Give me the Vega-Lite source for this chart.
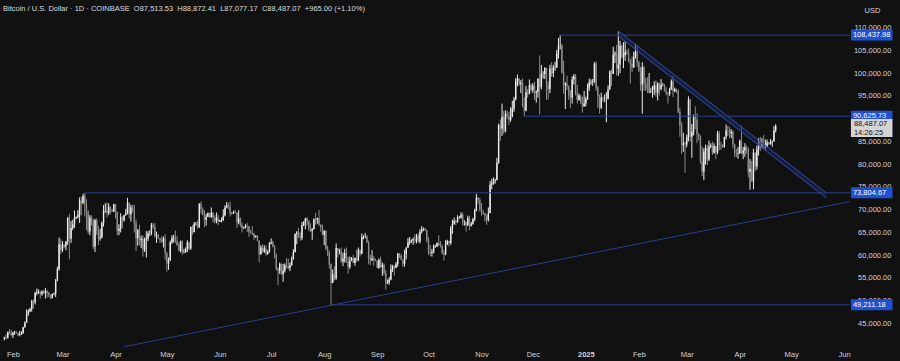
{
"$schema": "https://vega.github.io/schema/vega-lite/v6.json",
"width": 855, "height": 347,
"autosize": {"type": "none"},
"padding": {"left": 0, "top": 0, "right": 45, "bottom": 14},
"background": "#111111",
"config": {"view": {"stroke": null}, "font": "Liberation Sans", "axis": {"labelOverlap": false, "labelBound": false}},
"title": {"text": "Bitcoin / U.S. Dollar · 1D · COINBASE\u00a0\u00a0O87,513.53\u00a0\u00a0H88,872.41\u00a0\u00a0L87,077.17\u00a0\u00a0C88,487.07\u00a0\u00a0+965.00 (+1.10%)", "anchor": "start", "frame": "group", "orient": "top", "offset": -12, "dx": 3, "fontSize": 7.5, "fontWeight": "normal", "color": "#dcdcdc", "font": "Liberation Sans"},
"layer": [
{
"data": {"values": "d,o,h,l,c\n2024-01-27,41.8,42.2,41.4,42.1\n2024-01-28,42.1,42.8,41.6,42.0\n2024-01-29,42.0,43.3,41.8,43.3\n2024-01-30,43.3,43.9,42.7,42.9\n2024-01-31,42.9,43.7,42.3,42.6\n2024-02-01,42.6,43.3,41.9,43.1\n2024-02-02,43.1,43.5,42.6,43.2\n2024-02-03,43.2,43.4,42.9,43.0\n2024-02-04,43.0,43.1,42.3,42.6\n2024-02-05,42.6,43.5,42.3,42.7\n2024-02-06,42.7,43.4,42.6,43.1\n2024-02-07,43.1,44.4,42.8,44.3\n2024-02-08,44.3,45.6,44.2,45.3\n2024-02-09,45.3,48.2,45.3,47.1\n2024-02-10,47.1,48.2,46.8,47.8\n2024-02-11,47.8,48.6,47.6,48.3\n2024-02-12,48.3,50.3,47.7,50.0\n2024-02-13,50.0,50.4,48.4,49.7\n2024-02-14,49.7,52.1,49.3,51.8\n2024-02-15,51.8,52.8,51.3,52.0\n2024-02-16,52.0,52.6,51.6,52.1\n2024-02-17,52.1,52.2,50.6,51.6\n2024-02-18,51.6,52.4,51.2,52.1\n2024-02-19,52.1,52.5,51.6,51.8\n2024-02-20,51.8,52.9,50.6,52.3\n2024-02-21,52.3,52.4,50.8,51.8\n2024-02-22,51.8,52.1,50.9,51.3\n2024-02-23,51.3,51.5,50.5,50.7\n2024-02-24,50.7,51.7,50.6,51.6\n2024-02-25,51.6,51.9,51.3,51.7\n2024-02-26,51.7,54.9,50.9,54.5\n2024-02-27,54.5,57.6,54.4,57.1\n2024-02-28,57.1,64.0,56.7,62.5\n2024-02-29,62.5,63.7,60.4,61.2\n2024-03-01,61.2,63.2,60.8,62.4\n2024-03-02,62.4,62.5,61.7,62.0\n2024-03-03,62.0,63.2,61.2,63.1\n2024-03-04,63.1,68.5,62.4,68.3\n2024-03-05,68.3,69.2,59.2,63.8\n2024-03-06,63.8,67.6,62.8,66.1\n2024-03-07,66.1,67.9,65.6,66.9\n2024-03-08,66.9,69.9,66.1,68.3\n2024-03-09,68.3,68.6,68.0,68.5\n2024-03-10,68.5,70.0,68.2,69.0\n2024-03-11,69.0,72.8,67.2,72.1\n2024-03-12,72.1,72.9,68.8,71.5\n2024-03-13,71.5,73.6,71.3,73.1\n2024-03-14,73.1,73.8,68.6,71.4\n2024-03-15,71.4,72.4,65.6,69.5\n2024-03-16,69.5,70.0,64.8,65.3\n2024-03-17,65.3,68.9,64.5,68.4\n2024-03-18,68.4,68.9,66.6,67.6\n2024-03-19,67.6,68.1,61.5,62.0\n2024-03-20,62.0,68.1,60.8,67.8\n2024-03-21,67.8,68.2,64.6,65.5\n2024-03-22,65.5,66.6,62.3,63.8\n2024-03-23,63.8,65.9,63.3,64.0\n2024-03-24,64.0,67.5,63.8,67.2\n2024-03-25,67.2,71.1,66.4,69.9\n2024-03-26,69.9,71.5,69.4,69.9\n2024-03-27,69.9,71.7,68.4,69.4\n2024-03-28,69.4,71.5,68.9,70.7\n2024-03-29,70.7,70.9,69.1,69.9\n2024-03-30,69.9,70.3,69.6,69.7\n2024-03-31,69.7,71.4,69.6,71.3\n2024-04-01,71.3,71.3,68.2,69.6\n2024-04-02,69.6,69.7,64.5,65.5\n2024-04-03,65.5,66.9,64.5,65.9\n2024-04-04,65.9,69.3,65.1,68.5\n2024-04-05,68.5,68.7,66.0,67.8\n2024-04-06,67.8,69.0,67.5,68.9\n2024-04-07,68.9,70.3,68.8,69.4\n2024-04-08,69.4,72.7,69.1,71.6\n2024-04-09,71.6,71.7,68.2,69.1\n2024-04-10,69.1,71.2,67.5,70.6\n2024-04-11,70.6,71.2,69.5,70.0\n2024-04-12,70.0,71.2,65.1,67.1\n2024-04-13,67.1,67.9,61.0,63.9\n2024-04-14,63.9,65.8,62.2,65.7\n2024-04-15,65.7,66.8,62.3,63.4\n2024-04-16,63.4,64.4,61.7,63.8\n2024-04-17,63.8,64.5,59.8,61.3\n2024-04-18,61.3,64.0,60.8,63.5\n2024-04-19,63.5,65.4,59.6,63.8\n2024-04-20,63.8,65.4,63.2,64.9\n2024-04-21,64.9,65.6,64.3,64.9\n2024-04-22,64.9,67.2,64.5,66.8\n2024-04-23,66.8,67.2,65.9,66.4\n2024-04-24,66.4,67.1,63.9,64.3\n2024-04-25,64.3,65.3,62.8,64.5\n2024-04-26,64.5,64.8,63.8,63.8\n2024-04-27,63.8,63.9,62.8,63.4\n2024-04-28,63.4,64.3,62.8,63.1\n2024-04-29,63.1,64.2,61.8,63.8\n2024-04-30,63.8,64.7,59.1,60.6\n2024-05-01,60.6,60.8,56.5,58.3\n2024-05-02,58.3,59.6,56.9,59.1\n2024-05-03,59.1,63.3,58.8,62.9\n2024-05-04,62.9,64.5,62.6,63.9\n2024-05-05,63.9,64.6,62.9,64.0\n2024-05-06,64.0,65.5,62.8,63.2\n2024-05-07,63.2,64.4,62.2,62.3\n2024-05-08,62.3,62.9,60.9,61.2\n2024-05-09,61.2,63.3,60.7,63.1\n2024-05-10,63.1,63.4,60.2,60.8\n2024-05-11,60.8,61.5,60.5,60.8\n2024-05-12,60.8,61.8,60.6,61.5\n2024-05-13,61.5,63.4,60.8,62.9\n2024-05-14,62.9,63.1,61.2,61.6\n2024-05-15,61.6,66.4,61.3,66.3\n2024-05-16,66.3,66.7,64.6,65.2\n2024-05-17,65.2,67.4,65.1,67.0\n2024-05-18,67.0,67.4,66.6,67.0\n2024-05-19,67.0,67.7,65.9,66.3\n2024-05-20,66.3,71.5,66.1,71.4\n2024-05-21,71.4,71.9,69.2,70.2\n2024-05-22,70.2,70.6,68.8,69.1\n2024-05-23,69.1,70.0,66.3,67.9\n2024-05-24,67.9,69.2,66.6,68.5\n2024-05-25,68.5,69.5,68.5,69.3\n2024-05-26,69.3,69.5,68.3,68.5\n2024-05-27,68.5,70.6,68.3,69.4\n2024-05-28,69.4,69.6,67.3,68.4\n2024-05-29,68.4,68.9,67.1,67.6\n2024-05-30,67.6,69.5,67.1,68.4\n2024-05-31,68.4,69.0,66.7,67.5\n2024-06-01,67.5,67.9,67.4,67.8\n2024-06-02,67.8,68.4,67.3,67.8\n2024-06-03,67.8,70.2,67.6,68.8\n2024-06-04,68.8,71.1,68.6,70.6\n2024-06-05,70.6,71.8,70.4,71.1\n2024-06-06,71.1,71.6,70.2,70.8\n2024-06-07,70.8,71.9,68.6,69.3\n2024-06-08,69.3,69.5,69.1,69.3\n2024-06-09,69.3,69.9,69.2,69.6\n2024-06-10,69.6,70.1,69.3,69.5\n2024-06-11,69.5,69.5,66.1,67.3\n2024-06-12,67.3,70.0,66.9,68.2\n2024-06-13,68.2,68.4,66.3,66.7\n2024-06-14,66.7,67.3,65.1,66.0\n2024-06-15,66.0,66.4,65.9,66.2\n2024-06-16,66.2,66.9,66.0,66.6\n2024-06-17,66.6,67.2,65.2,66.5\n2024-06-18,66.5,66.5,64.1,65.2\n2024-06-19,65.2,65.7,64.7,65.0\n2024-06-20,65.0,66.5,64.5,64.9\n2024-06-21,64.9,65.0,63.4,64.1\n2024-06-22,64.1,64.5,63.9,64.3\n2024-06-23,64.3,64.5,63.2,63.3\n2024-06-24,63.3,63.4,58.5,60.3\n2024-06-25,60.3,62.3,60.2,61.8\n2024-06-26,61.8,62.5,60.7,60.9\n2024-06-27,60.9,62.3,60.6,61.6\n2024-06-28,61.6,62.2,60.0,60.3\n2024-06-29,60.3,61.2,60.3,60.9\n2024-06-30,60.9,63.0,60.7,62.7\n2024-07-01,62.7,63.8,62.5,62.9\n2024-07-02,62.9,63.3,61.8,62.1\n2024-07-03,62.1,62.3,59.4,60.2\n2024-07-04,60.2,60.5,56.8,57.0\n2024-07-05,57.0,57.5,53.5,56.7\n2024-07-06,56.7,58.5,56.0,58.2\n2024-07-07,58.2,58.3,55.8,55.9\n2024-07-08,55.9,58.2,54.3,56.7\n2024-07-09,56.7,58.3,56.3,57.9\n2024-07-10,57.9,59.5,57.2,57.7\n2024-07-11,57.7,59.4,57.0,57.3\n2024-07-12,57.3,58.5,56.6,57.9\n2024-07-13,57.9,59.8,57.8,59.2\n2024-07-14,59.2,61.4,59.2,60.8\n2024-07-15,60.8,64.9,60.7,64.7\n2024-07-16,64.7,65.4,62.5,65.1\n2024-07-17,65.1,66.1,63.9,64.1\n2024-07-18,64.1,65.1,63.3,63.9\n2024-07-19,63.9,67.4,63.4,66.7\n2024-07-20,66.7,67.6,66.5,67.2\n2024-07-21,67.2,68.3,65.8,68.2\n2024-07-22,68.2,68.5,66.6,67.6\n2024-07-23,67.6,67.8,65.4,65.9\n2024-07-24,65.9,67.1,65.2,65.4\n2024-07-25,65.4,66.1,63.5,65.8\n2024-07-26,65.8,68.2,65.8,68.0\n2024-07-27,68.0,69.4,66.8,67.9\n2024-07-28,67.9,68.3,67.0,68.3\n2024-07-29,68.3,70.0,66.5,66.8\n2024-07-30,66.8,66.9,65.3,66.2\n2024-07-31,66.2,66.8,64.5,64.6\n2024-08-01,64.6,65.6,62.3,65.4\n2024-08-02,65.4,65.6,61.2,61.5\n2024-08-03,61.5,62.2,59.9,60.7\n2024-08-04,60.7,61.1,57.2,58.1\n2024-08-05,58.1,58.3,49.2,54.0\n2024-08-06,54.0,57.0,54.0,56.0\n2024-08-07,56.0,57.7,54.6,55.0\n2024-08-08,55.0,62.7,54.7,61.7\n2024-08-09,61.7,61.7,59.6,60.9\n2024-08-10,60.9,61.5,60.3,60.9\n2024-08-11,60.9,61.8,58.4,58.7\n2024-08-12,58.7,60.7,57.7,59.4\n2024-08-13,59.4,61.5,58.5,60.6\n2024-08-14,60.6,61.8,58.4,58.7\n2024-08-15,58.7,59.8,56.1,57.5\n2024-08-16,57.5,59.8,57.1,58.9\n2024-08-17,58.9,59.7,58.8,59.5\n2024-08-18,59.5,60.2,58.4,58.4\n2024-08-19,58.4,59.6,57.8,59.5\n2024-08-20,59.5,61.4,58.6,59.0\n2024-08-21,59.0,61.8,58.8,61.2\n2024-08-22,61.2,61.4,59.8,60.4\n2024-08-23,60.4,64.9,60.3,64.1\n2024-08-24,64.1,64.5,63.6,64.2\n2024-08-25,64.2,65.0,63.8,64.2\n2024-08-26,64.2,64.5,62.8,62.9\n2024-08-27,62.9,63.3,58.1,59.4\n2024-08-28,59.4,60.2,57.9,59.0\n2024-08-29,59.0,61.2,58.8,59.4\n2024-08-30,59.4,59.9,57.8,59.1\n2024-08-31,59.1,59.4,58.8,58.9\n2024-09-01,58.9,59.0,57.3,57.3\n2024-09-02,57.3,59.4,57.1,59.1\n2024-09-03,59.1,59.8,57.4,57.5\n2024-09-04,57.5,58.5,55.6,58.0\n2024-09-05,58.0,58.3,55.7,56.2\n2024-09-06,56.2,56.9,52.6,53.9\n2024-09-07,53.9,54.8,53.8,54.1\n2024-09-08,54.1,55.3,53.6,54.8\n2024-09-09,54.8,58.1,54.6,57.0\n2024-09-10,57.0,58.0,56.4,57.6\n2024-09-11,57.6,57.9,55.6,57.3\n2024-09-12,57.3,58.6,57.3,58.1\n2024-09-13,58.1,60.6,57.6,60.5\n2024-09-14,60.5,60.6,59.5,60.0\n2024-09-15,60.0,60.4,59.1,59.1\n2024-09-16,59.1,59.2,57.5,58.2\n2024-09-17,58.2,61.3,57.6,60.3\n2024-09-18,60.3,61.8,59.2,61.8\n2024-09-19,61.8,63.9,61.7,62.9\n2024-09-20,62.9,64.1,62.4,63.2\n2024-09-21,63.2,63.6,62.8,63.4\n2024-09-22,63.4,64.0,62.4,63.6\n2024-09-23,63.6,64.7,62.7,63.3\n2024-09-24,63.3,64.8,62.7,64.3\n2024-09-25,64.3,64.8,62.9,63.1\n2024-09-26,63.1,65.8,62.7,65.2\n2024-09-27,65.2,66.5,64.9,65.8\n2024-09-28,65.8,66.2,65.4,65.9\n2024-09-29,65.9,66.1,65.4,65.6\n2024-09-30,65.6,65.7,62.9,63.3\n2024-10-01,63.3,64.1,60.2,60.8\n2024-10-02,60.8,62.4,59.9,60.6\n2024-10-03,60.6,61.5,59.8,60.8\n2024-10-04,60.8,62.5,60.5,62.1\n2024-10-05,62.1,62.4,61.7,62.1\n2024-10-06,62.1,62.9,61.9,62.8\n2024-10-07,62.8,64.5,62.2,62.2\n2024-10-08,62.2,63.2,61.8,62.1\n2024-10-09,62.1,62.5,60.3,60.6\n2024-10-10,60.6,61.3,58.9,60.3\n2024-10-11,60.3,63.4,60.1,62.4\n2024-10-12,62.4,63.5,62.4,63.2\n2024-10-13,63.2,63.3,62.0,62.8\n2024-10-14,62.8,66.5,62.4,66.0\n2024-10-15,66.0,67.9,64.8,67.0\n2024-10-16,67.0,68.4,66.8,67.6\n2024-10-17,67.6,67.9,66.7,67.4\n2024-10-18,67.4,68.9,67.2,68.4\n2024-10-19,68.4,68.7,68.1,68.4\n2024-10-20,68.4,69.5,68.1,69.0\n2024-10-21,69.0,69.5,66.6,67.4\n2024-10-22,67.4,67.8,66.6,67.4\n2024-10-23,67.4,67.5,65.3,66.7\n2024-10-24,66.7,68.8,66.5,68.2\n2024-10-25,68.2,68.8,65.6,66.6\n2024-10-26,66.6,67.4,66.4,67.0\n2024-10-27,67.0,68.3,66.8,68.0\n2024-10-28,68.0,70.3,67.6,69.9\n2024-10-29,69.9,73.6,69.7,72.7\n2024-10-30,72.7,72.9,71.4,72.3\n2024-10-31,72.3,72.7,69.7,70.2\n2024-11-01,70.2,71.6,68.8,69.5\n2024-11-02,69.5,70.0,69.0,69.3\n2024-11-03,69.3,69.4,67.5,68.8\n2024-11-04,68.8,69.0,66.8,67.8\n2024-11-05,67.8,70.6,67.5,69.4\n2024-11-06,69.4,76.4,69.3,75.6\n2024-11-07,75.6,76.9,74.6,75.9\n2024-11-08,75.9,77.2,75.6,76.5\n2024-11-09,76.5,76.9,75.8,76.7\n2024-11-10,76.7,81.5,76.5,80.4\n2024-11-11,80.4,89.0,80.2,88.7\n2024-11-12,88.7,89.9,85.2,87.9\n2024-11-13,87.9,93.4,86.3,90.5\n2024-11-14,90.5,91.8,86.7,87.3\n2024-11-15,87.3,91.9,87.1,91.1\n2024-11-16,91.1,91.9,90.1,90.6\n2024-11-17,90.6,91.6,88.7,89.8\n2024-11-18,89.8,92.6,89.4,90.5\n2024-11-19,90.5,94.0,90.4,92.3\n2024-11-20,92.3,94.9,91.6,94.3\n2024-11-21,94.3,99.0,94.1,98.3\n2024-11-22,98.3,99.8,97.2,98.9\n2024-11-23,98.9,99.0,97.3,97.7\n2024-11-24,97.7,98.6,95.7,98.0\n2024-11-25,98.0,98.9,92.6,93.0\n2024-11-26,93.0,94.8,90.6,91.9\n2024-11-27,91.9,97.3,91.7,95.9\n2024-11-28,95.9,96.6,94.7,95.6\n2024-11-29,95.6,98.7,95.4,97.5\n2024-11-30,97.5,97.8,96.0,96.4\n2024-12-01,96.4,97.9,95.7,97.3\n2024-12-02,97.3,98.2,94.2,95.8\n2024-12-03,95.8,96.3,93.6,96.0\n2024-12-04,96.0,99.0,94.7,98.8\n2024-12-05,98.8,104.0,91.0,97.0\n2024-12-06,97.0,101.9,96.5,99.9\n2024-12-07,99.9,100.5,98.9,99.9\n2024-12-08,99.9,101.4,98.8,101.2\n2024-12-09,101.2,101.3,94.2,97.4\n2024-12-10,97.4,98.3,94.3,96.6\n2024-12-11,96.6,101.9,95.7,101.1\n2024-12-12,101.1,102.5,99.3,100.0\n2024-12-13,100.0,101.9,99.2,101.4\n2024-12-14,101.4,102.6,100.6,101.4\n2024-12-15,101.4,105.2,101.2,104.4\n2024-12-16,104.4,107.8,103.3,106.1\n2024-12-17,106.1,108.4,105.3,106.1\n2024-12-18,106.1,106.5,100.0,100.2\n2024-12-19,100.2,102.8,95.6,97.5\n2024-12-20,97.5,98.1,92.2,97.8\n2024-12-21,97.8,99.5,96.4,97.2\n2024-12-22,97.2,97.4,94.2,95.1\n2024-12-23,95.1,96.4,92.5,94.7\n2024-12-24,94.7,99.4,93.4,98.7\n2024-12-25,98.7,99.9,97.6,99.4\n2024-12-26,99.4,99.9,95.2,95.8\n2024-12-27,95.8,97.5,93.4,94.2\n2024-12-28,94.2,95.6,94.0,95.2\n2024-12-29,95.2,95.3,93.3,93.7\n2024-12-30,93.7,94.9,91.4,92.8\n2024-12-31,92.8,96.2,92.7,93.4\n2025-01-01,93.4,94.9,92.8,94.4\n2025-01-02,94.4,97.8,94.2,96.9\n2025-01-03,96.9,98.9,96.2,98.1\n2025-01-04,98.1,98.7,97.5,98.2\n2025-01-05,98.2,98.8,97.3,98.3\n2025-01-06,98.3,102.5,97.9,102.2\n2025-01-07,102.2,102.7,96.2,96.9\n2025-01-08,96.9,97.3,92.5,95.0\n2025-01-09,95.0,95.4,91.2,92.5\n2025-01-10,92.5,95.8,92.2,94.7\n2025-01-11,94.7,94.9,93.8,94.5\n2025-01-12,94.5,95.4,93.7,94.5\n2025-01-13,94.5,95.9,89.3,94.5\n2025-01-14,94.5,97.4,94.3,96.5\n2025-01-15,96.5,100.7,96.5,100.5\n2025-01-16,100.5,100.9,97.3,99.9\n2025-01-17,99.9,105.9,99.9,104.1\n2025-01-18,104.1,104.9,102.3,104.4\n2025-01-19,104.4,106.3,99.6,101.1\n2025-01-20,101.1,109.3,99.5,102.0\n2025-01-21,102.0,107.2,100.1,106.1\n2025-01-22,106.1,106.4,103.3,103.7\n2025-01-23,103.7,106.9,101.2,104.0\n2025-01-24,104.0,107.1,102.8,104.8\n2025-01-25,104.8,105.3,104.1,104.7\n2025-01-26,104.7,105.5,102.5,102.6\n2025-01-27,102.6,103.2,97.8,102.1\n2025-01-28,102.1,103.8,100.3,101.3\n2025-01-29,101.3,104.8,101.3,103.7\n2025-01-30,103.7,106.5,103.3,104.7\n2025-01-31,104.7,106.1,101.5,102.4\n2025-02-01,102.4,102.8,100.3,100.6\n2025-02-02,100.6,101.5,96.2,97.6\n2025-02-03,97.6,102.5,91.2,101.4\n2025-02-04,101.4,101.7,96.2,97.8\n2025-02-05,97.8,99.0,96.2,96.6\n2025-02-06,96.6,99.2,95.7,96.5\n2025-02-07,96.5,100.1,95.7,96.5\n2025-02-08,96.5,96.9,95.7,96.5\n2025-02-09,96.5,97.3,94.7,96.5\n2025-02-10,96.5,98.3,95.3,97.4\n2025-02-11,97.4,98.5,94.9,95.8\n2025-02-12,95.8,98.1,94.1,97.8\n2025-02-13,97.8,98.0,95.2,96.6\n2025-02-14,96.6,98.8,96.3,97.5\n2025-02-15,97.5,97.9,97.2,97.5\n2025-02-16,97.5,97.7,96.1,96.1\n2025-02-17,96.1,97.0,95.2,95.7\n2025-02-18,95.7,96.0,93.4,95.5\n2025-02-19,95.5,96.9,95.1,96.6\n2025-02-20,96.6,98.7,96.4,98.3\n2025-02-21,98.3,99.5,94.8,96.1\n2025-02-22,96.1,96.9,95.9,96.6\n2025-02-23,96.6,96.7,95.7,96.3\n2025-02-24,96.3,96.5,91.3,91.5\n2025-02-25,91.5,92.5,86.1,88.6\n2025-02-26,88.6,89.3,82.3,84.3\n2025-02-27,84.3,87.0,82.8,84.7\n2025-02-28,84.7,85.1,78.2,84.4\n2025-03-01,84.4,86.6,83.8,86.0\n2025-03-02,86.0,95.0,85.1,94.3\n2025-03-03,94.3,94.4,85.1,86.1\n2025-03-04,86.1,88.9,81.5,87.2\n2025-03-05,87.2,91.0,86.4,90.6\n2025-03-06,90.6,92.8,87.8,89.9\n2025-03-07,89.9,91.3,84.7,86.7\n2025-03-08,86.7,86.9,85.3,86.2\n2025-03-09,86.2,86.4,80.2,80.7\n2025-03-10,80.7,84.0,77.5,78.5\n2025-03-11,78.5,83.6,76.6,82.9\n2025-03-12,82.9,84.4,80.0,83.7\n2025-03-13,83.7,84.3,79.9,81.1\n2025-03-14,81.1,85.3,80.8,84.0\n2025-03-15,84.0,84.7,83.6,84.3\n2025-03-16,84.3,85.1,82.1,82.6\n2025-03-17,82.6,84.7,82.4,84.1\n2025-03-18,84.1,84.1,81.2,82.7\n2025-03-19,82.7,87.4,82.3,86.9\n2025-03-20,86.9,87.4,83.2,84.2\n2025-03-21,84.2,85.0,83.2,84.1\n2025-03-22,84.1,84.5,83.7,83.8\n2025-03-23,83.8,86.1,83.8,86.1\n2025-03-24,86.1,88.8,85.5,87.5\n2025-03-25,87.5,88.5,86.3,87.4\n2025-03-26,87.4,88.3,85.9,86.9\n2025-03-27,86.9,87.8,85.8,87.2\n2025-03-28,87.2,87.5,83.6,84.4\n2025-03-29,84.4,84.6,81.6,82.6\n2025-03-30,82.6,83.5,81.6,82.4\n2025-03-31,82.4,83.9,81.3,82.5\n2025-04-01,82.5,85.5,82.4,85.2\n2025-04-02,85.2,88.5,82.3,82.5\n2025-04-03,82.5,83.9,81.2,83.1\n2025-04-04,83.1,84.7,81.7,83.8\n2025-04-05,83.8,84.2,82.4,83.5\n2025-04-06,83.5,83.8,77.2,78.4\n2025-04-07,78.4,81.2,74.5,79.1\n2025-04-08,79.1,80.8,76.2,76.3\n2025-04-09,76.3,83.5,74.6,82.6\n2025-04-10,82.6,82.7,78.5,79.6\n2025-04-11,79.6,84.2,78.9,83.4\n2025-04-12,83.4,85.8,82.0,85.3\n2025-04-13,85.3,86.1,83.0,83.7\n2025-04-14,83.7,85.8,83.6,84.5\n2025-04-15,84.5,86.5,83.6,83.6\n2025-04-16,83.6,85.5,83.1,84.0\n2025-04-17,84.0,85.5,83.8,84.9\n2025-04-18,84.9,85.0,84.3,84.5\n2025-04-19,84.5,85.6,84.4,85.0\n2025-04-20,85.0,85.3,83.9,85.1\n2025-04-21,85.1,88.5,85.1,87.5\n2025-04-22,87.513,88.872,87.077,88.487", "format": {"type": "csv", "parse": {"d": "date", "o": "number", "h": "number", "l": "number", "c": "number"}}},
"encoding": {
 "x": {"field": "d", "type": "temporal",
  "scale": {"type": "utc", "domain": [1706346000000, 1749034800000]},
  "axis": {"orient": "bottom", "title": null, "grid": false, "domain": false, "ticks": false, "tickSize": 0, "labelPadding": 3, "labelFontSize": 7.5, "labelColor": "#d1d4dc", "labelFont": "Liberation Sans", "labelOverlap": false, "labelFlush": false, "tickCount": {"interval": "month", "step": 1}, "labelExpr": "utcmonth(datum.value) == 0 ? utcFormat(datum.value, '%Y') : utcFormat(datum.value, '%b')", "labelFontWeight": {"condition": {"test": "utcmonth(datum.value) == 0", "value": "bold"}, "value": "normal"}}},
 "y": {"type": "quantitative", "scale": {"domain": [39.95, 116.15], "nice": false, "zero": false},
  "axis": {"orient": "right", "values": [110], "labels": false, "grid": false, "domain": false, "ticks": false, "tickSize": 0, "title": "USD", "titleAngle": 0, "titleAlign": "left", "titleBaseline": "middle", "titleX": 9, "titleY": 10, "titleFontSize": 7.5, "titleFontWeight": "normal", "titleColor": "#d1d4dc", "titleFont": "Liberation Sans"}},
 "color": {"condition": {"test": "datum.c >= datum.o", "value": "#ececec"}, "value": "#8c8c8c"}
},
"layer": [
 {"mark": {"type": "rule", "strokeWidth": 1}, "encoding": {"y": {"field": "l"}, "y2": {"field": "h"}}},
 {"mark": {"type": "bar", "size": 1.4}, "encoding": {"y": {"field": "o"}, "y2": {"field": "c"}}}
]
},
{
"data": {"values": [{"tick": 45, "label": "45,000.00"}, {"tick": 50, "label": "50,000.00"}, {"tick": 55, "label": "55,000.00"}, {"tick": 60, "label": "60,000.00"}, {"tick": 65, "label": "65,000.00"}, {"tick": 70, "label": "70,000.00"}, {"tick": 75, "label": "75,000.00"}, {"tick": 80, "label": "80,000.00"}, {"tick": 85, "label": "85,000.00"}, {"tick": 90, "label": "90,000.00"}, {"tick": 95, "label": "95,000.00"}, {"tick": 100, "label": "100,000.00"}, {"tick": 105, "label": "105,000.00"}, {"tick": 110, "label": "110,000.00"}]},
"mark": {"type": "text", "color": "#d1d4dc", "fontSize": 7.5, "font": "Liberation Sans", "align": "right", "baseline": "middle", "dx": -1, "clip": false},
"encoding": {"x": {"datum": 1751180400000, "type": "temporal"}, "y": {"field": "tick", "type": "quantitative"}, "text": {"field": "label"}}
},
{
"data": {"values": [{"level": 108.43798, "start": "2024-12-17", "label": "108,437.98"}, {"level": 90.62573, "start": "2024-11-26", "label": "90,625.73"}, {"level": 73.80467, "start": "2024-03-14", "label": "73,804.67"}, {"level": 49.21118, "start": "2024-08-05", "label": "49,211.18"}]},
"layer": [
 {"mark": {"type": "rule", "color": "#27418f", "strokeWidth": 1}, "encoding": {"x": {"field": "start", "type": "temporal"}, "x2": {"datum": 1749034800000}, "y": {"field": "level", "type": "quantitative"}}},
 {"mark": {"type": "rule", "color": "#1f50d2", "strokeWidth": 11, "strokeCap": "butt", "clip": false}, "encoding": {"x": {"datum": 1749081600000, "type": "temporal"}, "x2": {"datum": 1751180400000}, "y": {"field": "level", "type": "quantitative"}}},
 {"mark": {"type": "text", "color": "#ffffff", "fontSize": 7.5, "font": "Liberation Sans", "align": "left", "baseline": "middle", "dx": 2, "clip": false}, "encoding": {"x": {"datum": 1749081600000, "type": "temporal"}, "y": {"field": "level", "type": "quantitative"}, "text": {"field": "label"}}}
]
},
{
"data": {"values": [{"d": "2024-04-06", "v": 40.0}, {"d": "2025-06-04T11:00:00Z", "v": 71.9}]},
"mark": {"type": "line", "color": "#27418f", "strokeWidth": 1, "clip": true},
"encoding": {"x": {"field": "d", "type": "temporal"}, "y": {"field": "v", "type": "quantitative"}}
},
{
"data": {"values": [{"d": "2025-01-20", "top": 109.34, "bot": 108.24}, {"d": "2025-05-21T17:00:00Z", "top": 73.77, "bot": 72.67}]},
"layer": [
 {"mark": {"type": "area", "color": "#1a2a66", "opacity": 0.55}, "encoding": {"x": {"field": "d", "type": "temporal"}, "y": {"field": "top", "type": "quantitative"}, "y2": {"field": "bot"}}},
 {"mark": {"type": "line", "color": "#2e4ea8", "strokeWidth": 1}, "encoding": {"x": {"field": "d", "type": "temporal"}, "y": {"field": "top", "type": "quantitative"}}},
 {"mark": {"type": "line", "color": "#2e4ea8", "strokeWidth": 1}, "encoding": {"x": {"field": "d", "type": "temporal"}, "y": {"field": "bot", "type": "quantitative"}}}
]
},
{
"data": {"values": [{"price": 88.04, "label": "88,487.07\n14:26:25"}]},
"layer": [
 {"mark": {"type": "rule", "color": "#d4d4d4", "strokeWidth": 18, "strokeCap": "butt", "clip": false}, "encoding": {"x": {"datum": 1749081600000, "type": "temporal"}, "x2": {"datum": 1751180400000}, "y": {"field": "price", "type": "quantitative"}}},
 {"mark": {"type": "text", "color": "#131313", "fontSize": 7.5, "font": "Liberation Sans", "align": "left", "baseline": "middle", "dx": 3, "dy": -4, "lineBreak": "\n", "lineHeight": 9, "clip": false}, "encoding": {"x": {"datum": 1749081600000, "type": "temporal"}, "y": {"field": "price", "type": "quantitative"}, "text": {"field": "label"}}}
]
}
]
}
